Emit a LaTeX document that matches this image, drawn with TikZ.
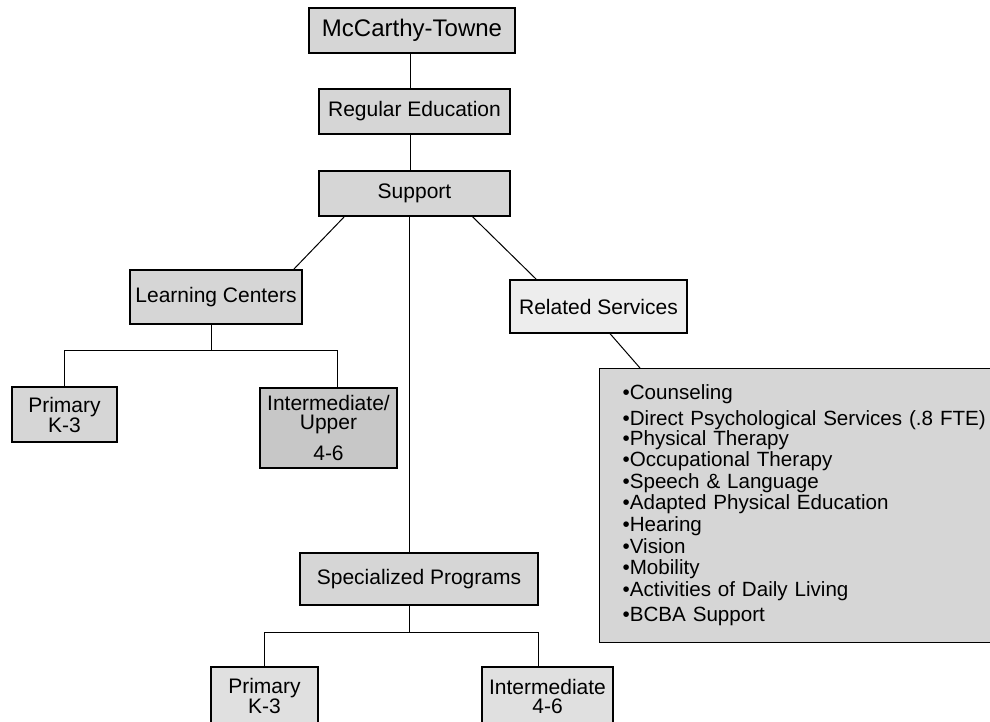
\documentclass[tikz,border=0pt]{standalone}
\usepackage{fontspec}
\setmainfont{Liberation Sans}
\usetikzlibrary{calc}

\begin{document}
\begin{tikzpicture}[x=1pt,y=-1pt]
    \tikzstyle{unit}=[draw=black, line width=1.2pt, fill=black!16, inner sep=0pt, font=\fontsize{21}{21}\selectfont]
    \tikzstyle{lightunit}=[unit, fill=black!7]
    \tikzstyle{grade}=[unit, align=center, font=\fontsize{21}{19}\selectfont]
    \tikzstyle{link}=[draw=black, line width=1pt]

    \clip (0,0) rectangle (990,721);

    % top of the chart
    \node[unit, minimum width=206pt, minimum height=45pt, font=\fontsize{24}{24}\selectfont] (town) at (412,30.5) {McCarthy-Towne};
    \node[unit, minimum width=191pt, minimum height=45pt] (regular) at (414.5,111.5) {Regular Education};
    \node[unit, minimum width=191pt, minimum height=45pt] (support) at (414.5,193.5) {Support};

    % second level
    \node[unit, minimum width=172pt, minimum height=54pt] (learning) at (216,297) {Learning Centers};
    \node[lightunit, minimum width=177pt, minimum height=53pt] (related) at (598.5,306.5) {Related Services};
    \node[unit, minimum width=238pt, minimum height=52pt] (special) at (419,579) {Specialized Programs};

    % grades
    \node[grade, minimum width=105pt, minimum height=55pt] (lcprimary) at (64.5,414.5) {Primary\\K-3};
    \node[grade, fill=black!22, minimum width=137pt, minimum height=80pt] (lcupper) at (328.5,428) {Intermediate/\\Upper\\[11pt]4-6};
    \node[grade, fill=black!12, minimum width=107pt, minimum height=58pt] (spprimary) at (264.5,696) {Primary\\K-3};
    \node[grade, fill=black!12, minimum width=131pt, minimum height=58pt] (spinter) at (547.5,696) {Intermediate\\4-6};

    % list of related services
    \node[unit, anchor=north west, align=left, text width=372pt, inner xsep=23pt, minimum height=274pt,
          font=\fontsize{20.6}{21.6}\selectfont] (services) at (599,368)
        {•Counseling\\[4pt]
         •Direct Psychological Services (.8 FTE)\\[-2pt]
         •Physical Therapy\\
         •Occupational Therapy\\
         •Speech \& Language\\
         •Adapted Physical Education\\
         •Hearing\\
         •Vision\\
         •Mobility\\
         •Activities of Daily Living\\[4pt]
         •BCBA Support};

    \coordinate (towndrop) at ($(town.south)+(-2,0)$);
    \coordinate (regdrop) at ($(regular.south)+(-4.5,0)$);
    \coordinate (spdrop) at ($(support.south)+(-5.5,0)$);
    \coordinate (lcfork) at ($(learning.south)+(-5,26)$);
    \coordinate (spfork) at ($(special.south)+(-10,27)$);

    \draw[link] (towndrop) -- (towndrop |- regular.north);
    \draw[link] (regdrop) -- (regdrop |- support.north);
    \draw[link] ($(support.south west)+(26,0)$) -- ($(learning.north east)+(-9,0)$);
    \draw[link] ($(support.south west)+(154,0)$) -- ($(related.north west)+(27,0)$);
    \draw[link] (spdrop) -- (spdrop |- special.north);
    \draw[link] ($(related.south)+(11.5,0)$) -- ($(services.north west)+(41,0)$);

    \draw[link] ($(learning.south)+(-5,0)$) -- (lcfork);
    \draw[link] (lcprimary.north) |- (lcfork) -| ($(lcupper.north)+(8.5,0)$);
    \draw[link] ($(special.south)+(-10,0)$) -- (spfork);
    \draw[link] (spprimary.north) |- (spfork) -| ($(spinter.north)+(-9.5,0)$);
\end{tikzpicture}
\end{document}
